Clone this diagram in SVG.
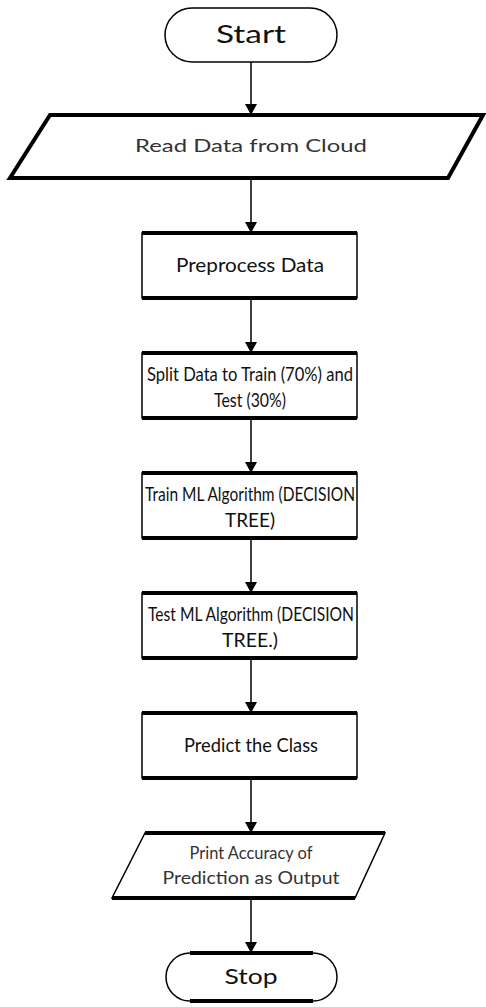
<svg xmlns="http://www.w3.org/2000/svg" width="486" height="1007" viewBox="0 0 486 1007">
<defs>
<marker id="ah" markerWidth="12" markerHeight="12" refX="10" refY="6" orient="auto" markerUnits="userSpaceOnUse">
<path d="M0,0 L11,6 L0,12 Z" fill="#000"/>
</marker>
<style>
.t{font-family:Lato,"Open Sans","DejaVu Sans",sans-serif;fill:#111;text-anchor:middle}
.g{fill:#333}
.thin{fill:#fff;stroke:#000;stroke-width:1.5}
.thick{fill:none;stroke:#000;stroke-width:4}
.c{stroke:#000;stroke-width:1.5;fill:none;marker-end:url(#ah)}
</style>
</defs>
<rect width="486" height="1007" fill="#fff"/>
<g id="connectors">
<line class="c" x1="251" y1="62" x2="251" y2="114"/>
<line class="c" x1="251" y1="178" x2="251" y2="232"/>
<line class="c" x1="251" y1="298" x2="251" y2="352"/>
<line class="c" x1="251" y1="418" x2="251" y2="472"/>
<line class="c" x1="251" y1="538" x2="251" y2="592"/>
<line class="c" x1="251" y1="658" x2="251" y2="712"/>
<line class="c" x1="251" y1="778" x2="251" y2="832"/>
<line class="c" x1="251" y1="898" x2="251" y2="952"/>
</g>
<g id="start">
<rect class="thin" x="165" y="8" width="172" height="54" rx="27"/>
<text class="t" x="251" y="43" font-size="25" textLength="70" lengthAdjust="spacingAndGlyphs">Start</text>
</g>
<g id="read">
<polygon points="50,115 483,115 448,178 10,178" fill="#fff" stroke="#000" stroke-width="4"/>
<text class="t g" x="251" y="152" font-size="18" textLength="232" lengthAdjust="spacingAndGlyphs">Read Data from Cloud</text>
</g>
<g id="preprocess">
<rect class="thin" x="142" y="233" width="215" height="65"/>
<path class="thick" d="M142,233H357M142,298H357"/>
<text class="t" x="250" y="272" font-size="20" textLength="148" lengthAdjust="spacingAndGlyphs">Preprocess Data</text>
</g>
<g id="split">
<rect class="thin" x="142" y="353" width="215" height="65"/>
<path class="thick" d="M142,353H357M142,418H357"/>
<text class="t" x="250" y="381" font-size="19" textLength="206" lengthAdjust="spacingAndGlyphs">Split Data to Train (70%) and</text>
<text class="t" x="250" y="407" font-size="19" textLength="72" lengthAdjust="spacingAndGlyphs">Test (30%)</text>
</g>
<g id="train">
<rect class="thin" x="142" y="473" width="215" height="65"/>
<path class="thick" d="M142,473H357M142,538H357"/>
<text class="t" x="250" y="501" font-size="19" textLength="210" lengthAdjust="spacingAndGlyphs">Train ML Algorithm (DECISION</text>
<text class="t" x="250" y="527" font-size="19" textLength="50" lengthAdjust="spacingAndGlyphs">TREE)</text>
</g>
<g id="test">
<rect class="thin" x="142" y="593" width="215" height="65"/>
<path class="thick" d="M142,593H357M142,658H357"/>
<text class="t" x="251" y="621" font-size="19" textLength="206" lengthAdjust="spacingAndGlyphs">Test ML Algorithm (DECISION</text>
<text class="t" x="250" y="647" font-size="19" textLength="56" lengthAdjust="spacingAndGlyphs">TREE.)</text>
</g>
<g id="predict">
<rect class="thin" x="142" y="713" width="215" height="65"/>
<path class="thick" d="M142,713H357M142,778H357"/>
<text class="t" x="251" y="752" font-size="20" textLength="134" lengthAdjust="spacingAndGlyphs">Predict the Class</text>
</g>
<g id="print">
<polygon class="thin" points="145,833 385,833 355,898 112,898"/>
<path class="thick" d="M145,833H385M112,898H355"/>
<text class="t g" x="251" y="859" font-size="17" textLength="123" lengthAdjust="spacingAndGlyphs">Print Accuracy of</text>
<text class="t g" x="251" y="884" font-size="17" textLength="177" lengthAdjust="spacingAndGlyphs">Prediction as Output</text>
</g>
<g id="stop">
<rect class="thin" x="166" y="953" width="171" height="48" rx="24"/>
<path class="thick" d="M190,953H313M190,1001H313"/>
<text class="t" x="251" y="984" font-size="21" textLength="53" lengthAdjust="spacingAndGlyphs">Stop</text>
</g>
</svg>
